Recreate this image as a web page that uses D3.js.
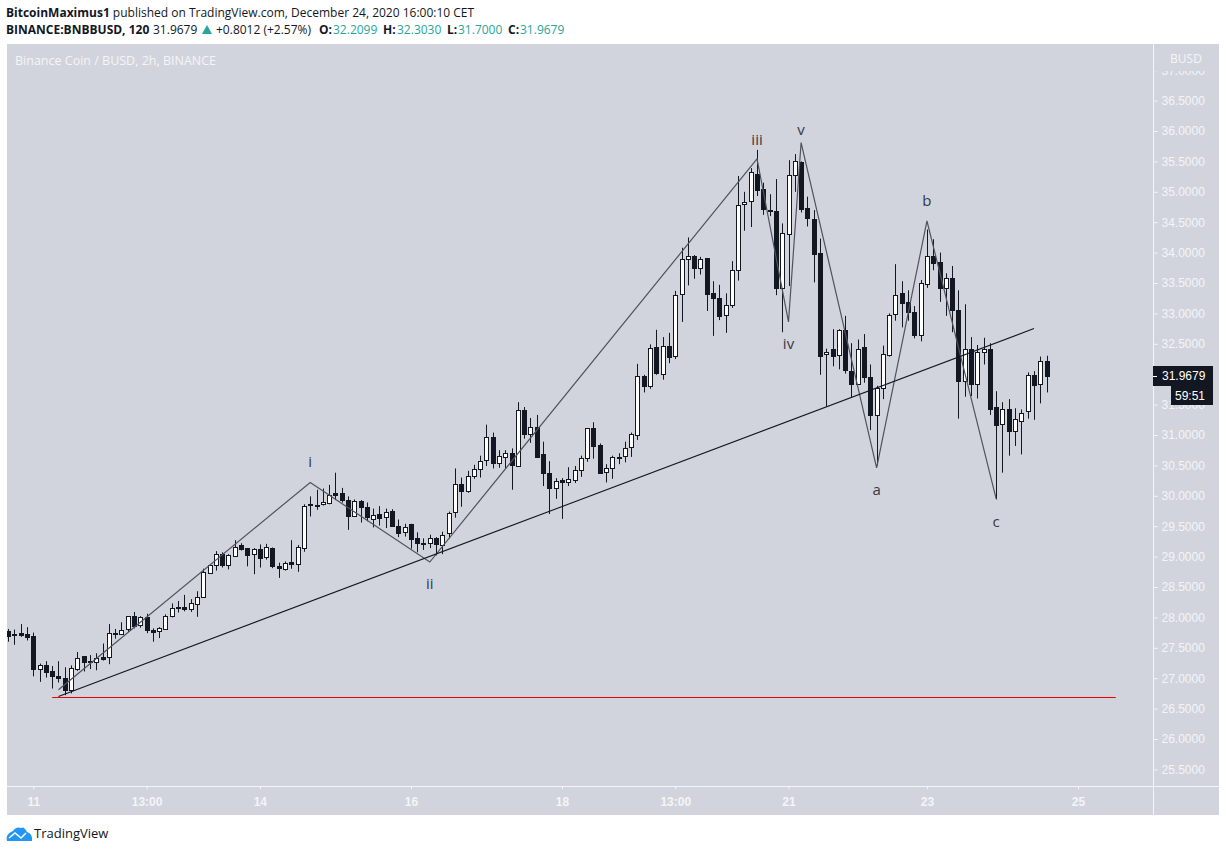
<!DOCTYPE html>
<html>
<head>
<meta charset="utf-8">
<script src="https://cdn.jsdelivr.net/npm/d3@7"></script>
<style>
	html, body { margin: 0; background: #fff; }
	text { font-family: 'Open Sans', sans-serif; }
</style>
</head>
<body>
<div id="chart"></div>
<script>
// Candles, oldest first, 2h bars
const open = [
	27.78, 27.72, 27.74, 27.72, 27.69, 27.14, 27.21, 27.12, 27.04, 27.01,
	26.80, 27.16, 27.36, 27.28, 27.27, 27.35, 27.34, 27.74, 27.73, 27.80,
	28.02, 27.87, 28.00, 27.80, 27.77, 27.82, 28.03, 28.17, 28.17, 28.13,
	28.23, 28.33, 28.74, 28.87,
	29.05, 28.86, 29.02, 29.19, 29.14, 29.04, 29.12, 28.98, 29.14, 28.84,
	28.79, 28.91, 28.87, 29.15, 29.86, 29.85, 29.86, 29.89, 30.05, 30.04,
	29.93, 29.67, 29.91, 29.81, 29.62, 29.70, 29.65, 29.75, 29.51, 29.40,
	29.53, 29.30, 29.22, 29.22, 29.30, 29.19, 29.38,
	29.73, 30.19, 30.08, 30.32, 30.45, 30.58, 30.96, 30.53, 30.64, 30.70,
	30.49, 31.41, 31.01, 31.13, 30.68, 30.37, 30.12, 30.26, 30.22, 30.25,
	30.42, 30.62, 31.11, 30.83, 30.39, 30.45, 30.63, 30.65, 30.80,
	31.00, 31.97, 31.80, 32.44, 32.01, 32.47, 32.30, 33.31, 33.89, 33.94,
	33.74, 33.91, 33.33, 33.25, 32.96, 33.13, 33.72, 34.81, 34.84, 35.30,
	35.04, 34.70, 34.68, 33.41, 34.30, 35.27, 35.49, 34.74, 34.56,
	33.99, 32.33, 32.41, 32.31, 32.72, 32.06, 31.85, 32.44, 31.95, 31.32,
	31.77, 32.33, 32.98, 33.33, 33.18, 33.03, 32.65, 33.49, 33.94, 33.84,
	33.41, 33.58, 33.06, 31.88, 32.41, 31.83, 32.36, 32.41, 31.46, 31.18,
	31.42, 31.06, 31.24, 31.39, 31.98, 31.83, 32.2099,
];
const high = [
	27.81, 27.80, 27.89, 27.84, 27.75, 27.24, 27.28, 27.20, 27.28, 27.18,
	27.21, 27.43, 27.36, 27.38, 27.41, 27.57, 27.89, 27.81, 27.92, 28.02,
	28.09, 28.02, 28.06, 27.82, 27.84, 28.05, 28.23, 28.27, 28.37, 28.30,
	28.43, 28.80, 28.88, 29.09,
	29.07, 29.04, 29.27, 29.22, 29.14, 29.14, 29.20, 29.21, 29.15, 28.90,
	28.92, 29.27, 29.19, 29.86, 29.99, 30.10, 30.12, 30.18, 30.38, 30.13,
	29.99, 29.94, 29.93, 29.89, 29.79, 29.83, 29.79, 29.78, 29.61, 29.54,
	29.54, 29.40, 29.30, 29.36, 29.32, 29.41, 29.74,
	30.45, 30.30, 30.41, 30.51, 30.66, 31.17, 31.04, 30.75, 30.75, 30.78,
	31.54, 31.46, 31.28, 31.33, 30.89, 30.57, 30.29, 30.29, 30.47, 30.49,
	30.66, 31.11, 31.21, 30.86, 30.52, 30.66, 30.70, 30.89, 31.04,
	32.17, 31.99, 32.49, 32.73, 32.61, 32.68, 33.37, 34.08, 34.25, 33.96,
	33.93, 33.91, 33.53, 33.47, 33.33, 33.86, 35.26, 35.00, 35.39, 35.69,
	35.15, 34.96, 35.21, 34.48, 35.52, 35.62, 35.50, 34.92, 34.70,
	34.23, 32.42, 32.74, 32.74, 32.96, 32.51, 32.57, 32.66, 32.16, 31.81,
	32.47, 33.00, 33.81, 33.53, 33.38, 33.12, 33.55, 34.38, 34.22, 34.00,
	33.66, 33.78, 33.38, 33.15, 32.61, 32.48, 32.60, 32.51, 31.72, 31.54,
	31.59, 31.44, 31.42, 32.03, 32.05, 32.29, 32.303,
];
const low = [
	27.60, 27.55, 27.68, 27.62, 27.03, 26.94, 27.01, 26.83, 26.93, 26.72,
	26.75, 27.12, 27.11, 27.15, 27.13, 27.29, 27.23, 27.65, 27.75, 27.76,
	27.82, 27.83, 27.74, 27.60, 27.66, 27.81, 28.00, 28.08, 28.10, 28.09,
	28.01, 28.33, 28.74, 28.77,
	28.82, 28.79, 29.00, 29.10, 28.84, 28.71, 28.82, 28.95, 28.81, 28.65,
	28.77, 28.80, 28.75, 29.08, 29.66, 29.77, 29.84, 29.86, 29.93, 29.89,
	29.44, 29.66, 29.56, 29.58, 29.48, 29.51, 29.47, 29.49, 29.32, 29.33,
	29.13, 29.07, 29.11, 29.14, 29.02, 29.04, 29.30,
	29.64, 29.82, 30.05, 30.28, 30.30, 30.49, 30.45, 30.46, 30.45, 30.10,
	30.48, 30.94, 30.87, 30.63, 30.16, 29.70, 29.95, 29.62, 30.16, 30.21,
	30.31, 30.56, 30.61, 30.36, 30.22, 30.28, 30.52, 30.55, 30.64,
	30.92, 31.70, 31.76, 31.99, 31.91, 32.18, 32.25, 32.86, 33.46, 33.57,
	33.64, 33.04, 32.63, 32.89, 32.68, 33.09, 33.54, 34.36, 34.42, 34.93,
	34.62, 34.60, 33.30, 32.69, 33.45, 35.00, 34.66, 34.43, 33.51,
	31.99, 31.47, 32.13, 32.08, 32.01, 31.61, 31.84, 31.86, 31.08, 30.50,
	31.59, 32.29, 32.88, 32.77, 32.88, 32.59, 32.54, 33.42, 33.71, 33.19,
	32.96, 32.69, 31.27, 31.63, 31.64, 31.60, 32.16, 31.33, 29.94, 30.38,
	30.66, 30.82, 30.68, 31.27, 31.25, 31.52, 31.70,
];
const close = [
	27.70, 27.70, 27.71, 27.67, 27.14, 27.21, 27.09, 27.03, 27.01, 26.81,
	27.16, 27.34, 27.26, 27.26, 27.33, 27.32, 27.74, 27.72, 27.79, 28.02,
	27.86, 28.00, 27.78, 27.77, 27.82, 28.03, 28.16, 28.15, 28.14, 28.23,
	28.34, 28.74, 28.87, 29.05,
	28.87, 29.02, 29.16, 29.13, 29.03, 29.13, 28.98, 29.15, 28.84, 28.80,
	28.89, 28.88, 29.15, 29.84, 29.84, 29.83, 29.89, 30.02, 30.02, 29.92,
	29.67, 29.91, 29.81, 29.64, 29.69, 29.64, 29.74, 29.51, 29.39, 29.49,
	29.28, 29.21, 29.21, 29.30, 29.20, 29.36, 29.71,
	30.19, 30.08, 30.32, 30.44, 30.58, 30.96, 30.53, 30.65, 30.70, 30.51,
	31.41, 31.01, 31.13, 30.63, 30.37, 30.13, 30.24, 30.23, 30.27, 30.42,
	30.62, 31.11, 30.81, 30.37, 30.45, 30.63, 30.62, 30.78, 31.01,
	31.97, 31.80, 32.43, 32.01, 32.47, 32.29, 33.31, 33.89, 33.94, 33.74,
	33.89, 33.32, 33.24, 32.96, 33.13, 33.71, 34.79, 34.84, 35.32, 35.04,
	34.71, 34.69, 33.42, 34.32, 35.27, 35.50, 34.72, 34.57, 33.98,
	32.29, 32.36, 32.29, 32.72, 32.07, 31.84, 32.42, 31.95, 31.32, 31.77,
	32.33, 32.98, 33.30, 33.17, 33.01, 32.65, 33.50, 33.95, 33.83, 33.41,
	33.58, 33.05, 31.89, 32.41, 31.84, 32.36, 32.41, 31.43, 31.17, 31.42,
	31.06, 31.26, 31.37, 31.98, 31.82, 32.21, 31.9679,
];

// Time axis, bar index of each label
const timeTicks = [4, 22, 40, 64, 88, 106, 124, 146, 170];
const timeLabels = ['11', '13:00', '14', '16', '18', '13:00', '21', '23', '25'];

// Price axis
const priceTicks = d3.range(25.5, 37.5, 0.5);

// Elliott wave drawing: bar index and price of each pivot
const waveBars = [8, 48, 67, 119, 124, 126, 138, 146, 157];
const wavePrices = [26.81, 30.22, 28.91, 35.54, 32.86, 35.81, 30.46, 34.52, 29.95];
const waveNames = ['', 'i', 'ii', 'iii', 'iv', 'v', 'a', 'b', 'c'];

// Trend line and support line: bar index, price
const trendBars = [8, 163];
const trendPrices = [26.70, 32.75];
const supportBars = [7, 176];
const supportPrice = 26.69;

const lastPrice = 31.9679;
const countdown = '59:51';

// Attribute
const width = 1226;
const height = 852;
const pane = { left: 7, right: 1153, top: 44, bottom: 786 };
const scaleRight = 1219;
const scaleBottom = 815;
const bg = '#d1d4dc';
const dark = '#131722';
const axisText = '#f4f5f8';
const teal = '#26a69a';
const labelOffset = [0, -20, 22, -19, 22, -13, 22, -20, 23];

const svg = d3.select('#chart').append('svg');
svg.attr('width', width).attr('height', height).style('display', 'block');

const x = d3.scaleLinear().domain([4, 170]).range([33.3, 1078]);
const y = d3.scaleLinear().domain([26, 36]).range([739, 131]);

const candles = open.map((o, i) => ({ i, o, h: high[i], l: low[i], c: close[i] }));

// Panel background
svg.append('rect')
	.attr('x', pane.left)
	.attr('y', pane.top)
	.attr('width', scaleRight - pane.left)
	.attr('height', scaleBottom - pane.top)
	.attr('fill', bg);

svg.append('clipPath')
	.attr('id', 'pane')
	.append('rect')
	.attr('x', pane.left)
	.attr('y', pane.top)
	.attr('width', pane.right - pane.left)
	.attr('height', pane.bottom - pane.top);

const plot = svg.append('g').attr('clip-path', 'url(#pane)');

// Wicks first, bodies on top
plot.append('g')
	.selectAll('line')
	.data(candles)
	.join('line')
	.attr('x1', (d) => Math.round(x(d.i)) + 0.5)
	.attr('x2', (d) => Math.round(x(d.i)) + 0.5)
	.attr('y1', (d) => y(d.h))
	.attr('y2', (d) => y(d.l))
	.attr('stroke', dark);

plot.append('g')
	.selectAll('rect')
	.data(candles)
	.join('rect')
	.attr('x', (d) => Math.round(x(d.i)) - 1.5)
	.attr('y', (d) => Math.round(y(Math.max(d.o, d.c))) + 0.5)
	.attr('width', 4)
	.attr('height', (d) => Math.max(1, Math.round(Math.abs(y(d.o) - y(d.c)))))
	.attr('fill', (d) => (d.c >= d.o ? '#fff' : dark))
	.attr('stroke', dark);

// Drawings
const wave = d3.line()
	.x((d) => x(d[0]))
	.y((d) => y(d[1]));

plot.append('path')
	.attr('d', wave(d3.zip(waveBars, wavePrices)))
	.attr('fill', 'none')
	.attr('stroke', '#50535e')
	.attr('stroke-width', 1.2);

plot.append('path')
	.attr('d', wave(d3.zip(trendBars, trendPrices)))
	.attr('fill', 'none')
	.attr('stroke', dark)
	.attr('stroke-width', 1.1);

plot.append('line')
	.attr('x1', x(supportBars[0]))
	.attr('x2', x(supportBars[1]))
	.attr('y1', Math.round(y(supportPrice)) + 0.5)
	.attr('y2', Math.round(y(supportPrice)) + 0.5)
	.attr('stroke', '#f00000');

plot.append('g')
	.selectAll('text')
	.data(waveNames)
	.join('text')
	.attr('x', (d, i) => x(waveBars[i]))
	.attr('y', (d, i) => y(wavePrices[i]) + labelOffset[i] + 5)
	.attr('text-anchor', 'middle')
	.attr('font-size', 15)
	.attr('fill', '#363a45')
	.text((d) => d);

// Price scale
const priceAxis = svg.append('g')
	.attr('transform', `translate(${pane.right + 0.5},0)`)
	.call(d3.axisRight(y).tickValues(priceTicks).tickSize(4).tickPadding(4).tickFormat(d3.format('.4f')));
priceAxis.select('.domain').remove();
priceAxis.selectAll('line').attr('stroke', axisText);
priceAxis.selectAll('text')
	.attr('fill', axisText)
	.attr('font-size', 12)
	.style('font-family', "'Liberation Sans', sans-serif");

// Time scale
const timeAxis = svg.append('g')
	.attr('transform', `translate(0,${pane.bottom + 0.5})`)
	.call(d3.axisBottom(x)
		.tickValues(timeTicks)
		.tickSize(3)
		.tickPadding(8)
		.tickFormat((d, i) => timeLabels[i]));
timeAxis.select('.domain').remove();
timeAxis.selectAll('line').attr('stroke', axisText);
timeAxis.selectAll('text')
	.attr('fill', axisText)
	.attr('font-size', 12)
	.attr('font-weight', 'bold')
	.style('font-family', "'Liberation Sans', sans-serif");

// Pane borders
svg.append('line')
	.attr('x1', pane.left)
	.attr('x2', scaleRight)
	.attr('y1', pane.bottom + 0.5)
	.attr('y2', pane.bottom + 0.5)
	.attr('stroke', axisText);
svg.append('line')
	.attr('x1', pane.right + 0.5)
	.attr('x2', pane.right + 0.5)
	.attr('y1', pane.top)
	.attr('y2', scaleBottom)
	.attr('stroke', axisText);

// BUSD unit label hides the top half of the 37 tick
svg.append('rect')
	.attr('x', pane.right + 1)
	.attr('y', pane.top)
	.attr('width', scaleRight - pane.right - 1)
	.attr('height', 27)
	.attr('fill', bg);
svg.append('text')
	.attr('x', 1186)
	.attr('y', 63)
	.attr('text-anchor', 'middle')
	.attr('font-size', 12)
	.attr('fill', axisText)
	.text('BUSD');

// Last price and countdown tags
svg.append('rect')
	.attr('x', pane.right)
	.attr('y', Math.round(y(lastPrice)) - 10)
	.attr('width', 60)
	.attr('height', 20)
	.attr('fill', dark);
svg.append('rect')
	.attr('x', 1171)
	.attr('y', Math.round(y(lastPrice)) + 10)
	.attr('width', 42)
	.attr('height', 19)
	.attr('fill', dark);
svg.append('line')
	.attr('x1', pane.right)
	.attr('x2', pane.right + 4)
	.attr('y1', Math.round(y(lastPrice)) + 0.5)
	.attr('y2', Math.round(y(lastPrice)) + 0.5)
	.attr('stroke', '#fff');
svg.append('text')
	.attr('x', 1162)
	.attr('y', y(lastPrice) + 4)
	.attr('font-size', 12)
	.attr('fill', '#fff')
	.style('font-family', "'Liberation Sans', sans-serif")
	.text(d3.format('.4f')(lastPrice));
svg.append('text')
	.attr('x', 1175)
	.attr('y', y(lastPrice) + 24)
	.attr('font-size', 12)
	.attr('fill', '#fff')
	.style('font-family', "'Liberation Sans', sans-serif")
	.text(countdown);

// Header
const line1 = svg.append('text').attr('x', 6).attr('y', 17).attr('font-size', 12).attr('fill', dark);
line1.append('tspan').attr('font-weight', 'bold').text('BitcoinMaximus1');
line1.append('tspan').text(' published on TradingView.com, December 24, 2020 16:00:10 CET');

const legend = [
	{ x: 6, t: 'BINANCE:BNBBUSD, 120', b: true, c: dark },
	{ x: 153, t: '31.9679', c: dark },
	{ x: 216, t: '+0.8012 (+2.57%)', c: dark },
	{ x: 319, t: 'O:', b: true, c: dark },
	{ x: 333, t: '32.2099', c: teal },
	{ x: 383, t: 'H:', b: true, c: dark },
	{ x: 397, t: '32.3030', c: teal },
	{ x: 447, t: 'L:', b: true, c: dark },
	{ x: 458, t: '31.7000', c: teal },
	{ x: 508, t: 'C:', b: true, c: dark },
	{ x: 520, t: '31.9679', c: teal },
];
svg.append('g')
	.selectAll('text')
	.data(legend)
	.join('text')
	.attr('x', (d) => d.x)
	.attr('y', 34)
	.attr('font-size', 12)
	.attr('font-weight', (d) => (d.b ? 'bold' : 'normal'))
	.attr('fill', (d) => d.c)
	.text((d) => d.t);
svg.append('path').attr('d', 'M202,34 L207,25 L212,34 Z').attr('fill', teal);

svg.append('text')
	.attr('x', 15)
	.attr('y', 65)
	.attr('font-size', 12.5)
	.attr('fill', axisText)
	.text('Binance Coin / BUSD, 2h, BINANCE');

// Logo
svg.append('path')
	.attr('d', 'M7,841 Q5,834 13,831 Q16,826 21,828 Q24,826 27,832 Q33,834 32,841 Z')
	.attr('fill', '#2196f3');
svg.append('path')
	.attr('d', 'M9,838 L15,833 L21,838 L26,833')
	.attr('fill', 'none')
	.attr('stroke', '#fff')
	.attr('stroke-width', 1.5);
svg.append('text')
	.attr('x', 34)
	.attr('y', 838)
	.attr('font-size', 13)
	.attr('fill', dark)
	.text('TradingView');
</script>
</body>
</html>
